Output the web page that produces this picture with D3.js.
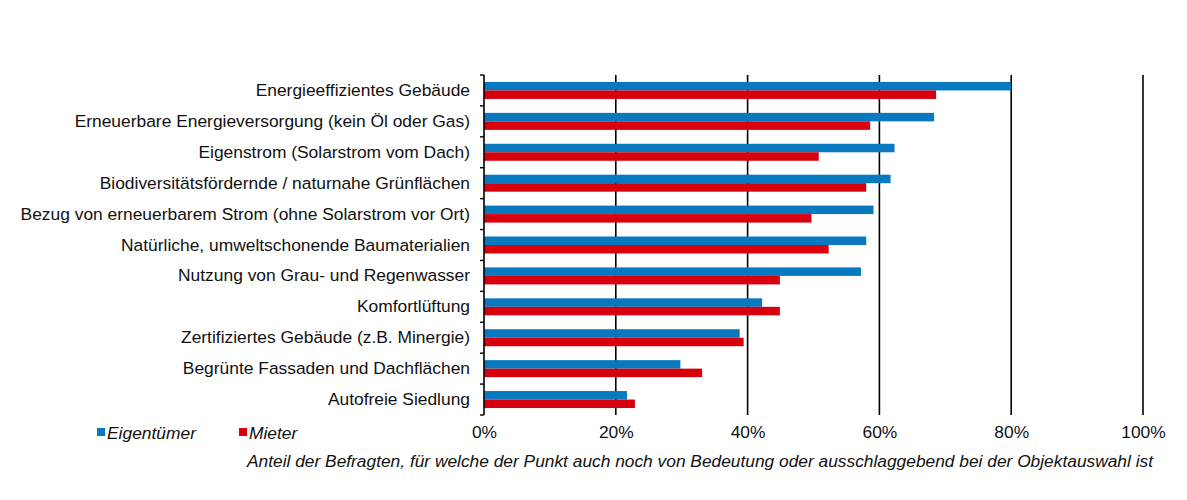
<!DOCTYPE html>
<html><head><meta charset="utf-8">
<script src="https://cdn.jsdelivr.net/npm/d3@7/dist/d3.min.js"></script>
<style>body{margin:0;background:#fff}svg{display:block}</style>
</head><body>
<svg id="c" width="1187" height="500"></svg>
<script>
const categories = [
  "Energieeffizientes Gebäude",
  "Erneuerbare Energieversorgung (kein Öl oder Gas)",
  "Eigenstrom (Solarstrom vom Dach)",
  "Biodiversitätsfördernde / naturnahe Grünflächen",
  "Bezug von erneuerbarem Strom (ohne Solarstrom vor Ort)",
  "Natürliche, umweltschonende Baumaterialien",
  "Nutzung von Grau- und Regenwasser",
  "Komfortlüftung",
  "Zertifiziertes Gebäude (z.B. Minergie)",
  "Begrünte Fassaden und Dachflächen",
  "Autofreie Siedlung"
];
const eigentuemer = [80.0, 68.3, 62.3, 61.7, 59.1, 58.0, 57.2, 42.2, 38.8, 29.8, 21.7];
const mieter      = [68.6, 58.6, 50.8, 58.0, 49.7, 52.3, 44.9, 44.9, 39.4, 33.1, 22.9];
const seriesNames = ["Eigentümer", "Mieter"];
const xTicks = [0, 20, 40, 60, 80, 100];
const axisTitle = "Anteil der Befragten, für welche der Punkt auch noch von Bedeutung oder ausschlaggebend bei der  Objektauswahl ist";

const colors = ["#0879bf", "#d9000d"];
const svg = d3.select("#c");
const font = "'Liberation Sans', Arial, sans-serif";
const fs = 17.4;

const x = d3.scaleLinear().domain([0, 100]).range([484, 1143]);
const y = d3.scaleBand().domain(categories).range([75, 415]);
const inner = d3.scaleBand().domain(seriesNames).range([0, 17]);

// gridlines
svg.append("g").selectAll("line").data(xTicks.filter(d => d > 0)).join("line")
  .attr("x1", d => x(d)).attr("x2", d => x(d))
  .attr("y1", 75).attr("y2", 415)
  .attr("stroke", "#000").attr("stroke-width", 1.6);

// bars
const rows = svg.append("g").selectAll("g").data(categories).join("g")
  .attr("transform", d => `translate(0,${y(d) + (y.bandwidth() - 17) / 2})`);
rows.each(function(c, i) {
  const g = d3.select(this);
  [eigentuemer[i], mieter[i]].forEach((v, s) => {
    g.append("rect")
      .attr("x", x(0)).attr("y", inner(seriesNames[s]))
      .attr("width", x(v) - x(0)).attr("height", inner.bandwidth())
      .attr("fill", colors[s]);
  });
});

// y axis
const yAxis = d3.axisLeft(y).tickSize(0).tickPadding(14);
const ga = svg.append("g").attr("transform", `translate(${x(0)},0)`).call(yAxis);
ga.select(".domain").attr("stroke", "#000").attr("stroke-width", 1.6).attr("d", "M0,75V415");
ga.selectAll("text").attr("font-family", font).attr("font-size", fs).attr("fill", "#111");
// band-boundary ticks
const bounds = categories.map(c => y(c)).concat([y.range()[1]]);
ga.selectAll("line.bt").data(bounds).join("line").attr("class", "bt")
  .attr("x1", -4).attr("x2", 0).attr("y1", d => d).attr("y2", d => d)
  .attr("stroke", "#000").attr("stroke-width", 1.4);

// x axis labels
const xAxis = d3.axisBottom(x).tickValues(xTicks).tickFormat(d => d + "%").tickSize(0).tickPadding(11);
const gx = svg.append("g").attr("transform", "translate(0,415)").call(xAxis);
gx.select(".domain").remove();
gx.selectAll("text").attr("font-family", font).attr("font-size", fs).attr("fill", "#111");

// axis title
svg.append("text").attr("x", 247).attr("y", 467)
  .attr("font-family", font).attr("font-size", 16).attr("font-style", "italic").attr("fill", "#111")
  .attr("textLength", 906).attr("lengthAdjust", "spacingAndGlyphs")
  .text(axisTitle);

// legend
const legendX = [97, 239];
seriesNames.forEach((n, i) => {
  svg.append("rect").attr("x", legendX[i]).attr("y", 428).attr("width", 8).attr("height", 8).attr("fill", colors[i]);
  svg.append("text").attr("x", legendX[i] + 10).attr("y", 439)
    .attr("font-family", font).attr("font-size", fs).attr("font-style", "italic").attr("fill", "#111").text(n);
});
</script>
</body></html>
